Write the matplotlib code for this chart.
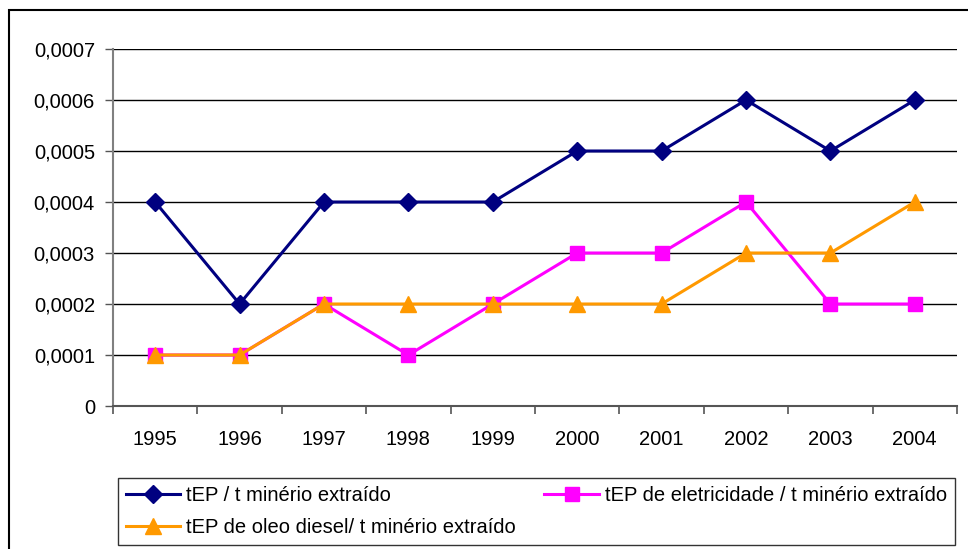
import matplotlib
matplotlib.use("Agg")
import matplotlib.pyplot as plt
from matplotlib.patches import Rectangle
from matplotlib.ticker import FixedLocator, FuncFormatter

plt.rcParams['font.family'] = ['Liberation Sans', 'DejaVu Sans']

years = ['1995', '1996', '1997', '1998', '1999', '2000', '2001', '2002', '2003', '2004']
tep_total = [0.0004, 0.0002, 0.0004, 0.0004, 0.0004, 0.0005, 0.0005, 0.0006, 0.0005, 0.0006]
tep_eletricidade = [0.0001, 0.0001, 0.0002, 0.0001, 0.0002, 0.0003, 0.0003, 0.0004, 0.0002, 0.0002]
tep_diesel = [0.0001, 0.0001, 0.0002, 0.0002, 0.0002, 0.0002, 0.0002, 0.0003, 0.0003, 0.0004]
y_ticks = [0, 0.0001, 0.0002, 0.0003, 0.0004, 0.0005, 0.0006, 0.0007]

W, H = 968, 549
fig = plt.figure(figsize=(W / 100, H / 100), dpi=100)

# plot area in pixel coordinates
left, right, top, bottom = 113, 957, 49, 406
ax = fig.add_axes([left / W, 1 - bottom / H, (right - left) / W, (bottom - top) / H])

x = list(range(len(years)))
l1, = ax.plot(x, tep_total, color='#000080', lw=2.2, marker='D', ms=9,
              label='tEP / t minério extraído', zorder=3)
l2, = ax.plot(x, tep_eletricidade, color='#FF00FF', lw=2.2, marker='s', ms=10,
              label='tEP de eletricidade / t minério extraído', zorder=4)
l3, = ax.plot(x, tep_diesel, color='#FF9900', lw=2.2, marker='^', ms=11,
              label='tEP de oleo diesel/ t minério extraído', zorder=5)

ax.set_xlim(-0.5, len(years) - 0.5)
ax.set_ylim(0, 0.0007)

# y axis
ax.set_yticks(y_ticks)
ax.yaxis.set_major_formatter(FuncFormatter(lambda v, p: '0' if v == 0 else f'{v:.4f}'.replace('.', ',')))
ax.grid(axis='y', color='black', lw=1.0)
ax.set_axisbelow(True)

# x axis: ticks between categories, labels at categories
ax.xaxis.set_major_locator(FixedLocator([i - 0.5 for i in range(len(years) + 1)]))
ax.xaxis.set_major_formatter(FuncFormatter(lambda v, p: ''))
ax.xaxis.set_minor_locator(FixedLocator(x))
ax.set_xticklabels(years, minor=True)
ax.tick_params(axis='x', which='minor', length=0, labelsize=14.5, pad=17)
ax.tick_params(axis='x', which='major', length=6, width=1.2, color='#555555', direction='out')
ax.tick_params(axis='y', length=6, width=1.0, color='#555555', labelsize=14.5, pad=7)

for s in ['top', 'right']:
    ax.spines[s].set_visible(False)
ax.spines['left'].set_color('#808080')
ax.spines['left'].set_linewidth(1.5)
ax.spines['bottom'].set_color('#555555')
ax.spines['bottom'].set_linewidth(1.5)

# legend
leg = fig.legend(handles=[l1, l3, l2], ncol=2, loc='upper left',
                 bbox_to_anchor=(118 / W, 1 - 478 / H), frameon=True, fontsize=14.5,
                 handlelength=2.7, handletextpad=0.3, columnspacing=1.4,
                 borderaxespad=0, borderpad=0.4, labelspacing=0.65, fancybox=False)
leg.get_frame().set_edgecolor('black')
leg.get_frame().set_linewidth(1.0)

# chart border
fig.patches.append(Rectangle((9 / W, -0.1), 1.2, 1 - 10 / H + 0.1, transform=fig.transFigure,
                             fill=False, edgecolor='black', lw=1.5, zorder=0))

fig.savefig('out.png', dpi=100)
